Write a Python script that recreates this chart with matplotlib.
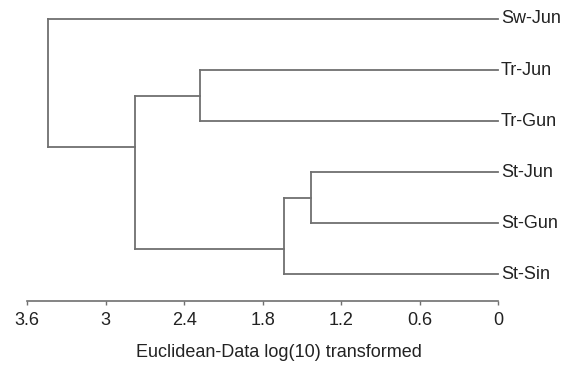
import matplotlib.pyplot as plt

# Leaves, top to bottom
leaves = ["Sw-Jun", "Tr-Jun", "Tr-Gun", "St-Jun", "St-Gun", "St-Sin"]

# Merges in order: children are leaf names or "m<index>" of an earlier merge
merge_left = ["St-Jun", "m0", "Tr-Jun", "m2", "Sw-Jun"]
merge_right = ["St-Gun", "St-Sin", "Tr-Gun", "m1", "m3"]
merge_height = [1.43, 1.64, 2.28, 2.78, 3.44]

tick_values = [3.6, 3, 2.4, 1.8, 1.2, 0.6, 0]
tick_labels = ["3.6", "3", "2.4", "1.8", "1.2", "0.6", "0"]
xlabel = "Euclidean-Data log(10) transformed"

line_color = "#707070"
text_color = "#222222"
plt.rcParams['font.family'] = ['Liberation Sans', 'DejaVu Sans']

fig = plt.figure(figsize=(5.71, 3.65), dpi=100)
ax = fig.add_axes([0.0478, 0.1762, 0.8249, 0.7964])

# node -> (height, connection y, first leaf, last leaf)
nodes = {}
for i, name in enumerate(leaves):
    nodes[name] = (0.0, float(i), i, i)

for i, (l, r, h) in enumerate(zip(merge_left, merge_right, merge_height)):
    lh, ly, lfirst, llast = nodes[l]
    rh, ry, rfirst, rlast = nodes[r]
    # vertical joining the two children
    ax.plot([h, h], [ly, ry], color=line_color, lw=1.3, clip_on=False,
            solid_capstyle='projecting')
    # horizontals from each child
    ax.plot([lh, h], [ly, ly], color=line_color, lw=1.3, clip_on=False)
    ax.plot([rh, h], [ry, ry], color=line_color, lw=1.3, clip_on=False)
    # attachment point sits at the boundary between the two leaf groups
    nodes["m%d" % i] = (h, (llast + rfirst) / 2.0, lfirst, rlast)

# Leaf labels
for i, name in enumerate(leaves):
    ax.annotate(name, xy=(0, i), xytext=(2, 0), textcoords='offset points',
                ha='left', va='center', fontsize=13, color=text_color,
                annotation_clip=False)

ax.set_xlim(3.6, 0)
ax.set_ylim(5.517, -0.176)

ax.set_xticks(tick_values)
ax.set_xticklabels(tick_labels)
ax.tick_params(axis='x', direction='out', length=3, width=1, color=line_color,
               labelsize=13, labelcolor=text_color, pad=5)
ax.set_yticks([])

for s in ['left', 'top', 'right']:
    ax.spines[s].set_visible(False)
ax.spines['bottom'].set_color(line_color)
ax.spines['bottom'].set_linewidth(1.2)

ax.set_xlabel(xlabel, fontsize=13, color=text_color)
ax.xaxis.set_label_coords(0.534, -0.15)

fig.savefig("out.png", dpi=100)
